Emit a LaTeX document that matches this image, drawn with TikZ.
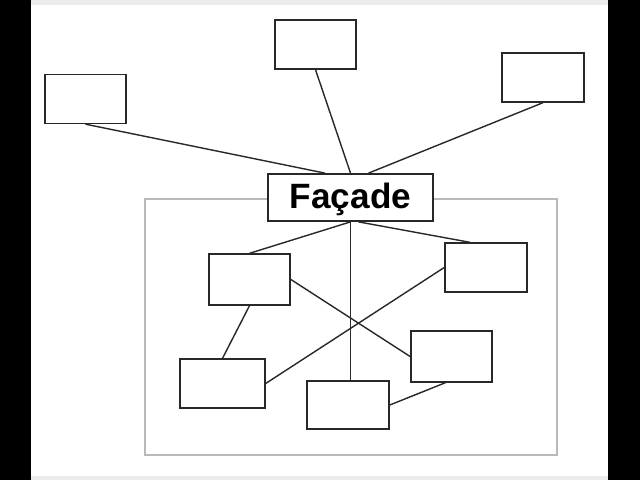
\documentclass[tikz,border=0pt]{standalone}
\usepackage{fontspec}
\setsansfont{Liberation Sans}
\usepackage{tikz}
\usetikzlibrary{positioning, calc}
\definecolor{boxline}{RGB}{40,40,40}
\definecolor{frameline}{RGB}{185,185,185}
\definecolor{stripgrey}{RGB}{236,236,236}
\tikzset{
  classbox/.style={draw=boxline, line width=1.1pt, fill=white, inner sep=0pt,
                   minimum width=2.03cm, minimum height=1.22cm},
  facadebox/.style={draw=boxline, line width=1.1pt, fill=white, inner sep=0pt,
                    minimum width=4.12cm, minimum height=1.18cm,
                    font=\sffamily\bfseries\fontsize{25}{29}\selectfont},
  link/.style={draw=boxline, line width=1pt},
  subsystem/.style={draw=frameline, line width=1.2pt},
}

\begin{document}
\begin{tikzpicture}[x=0.025cm, y=-0.025cm]
\useasboundingbox (0,0) rectangle (640,480);
% side bars and strips of the frame grab
\fill[black] (0,0) rectangle (31,480);
\fill[black] (608,0) rectangle (640,480);
\fill[stripgrey] (31,0) rectangle (608,5);
\fill[stripgrey] (31,476) rectangle (608,480);

% subsystem frame
\draw[subsystem] (145,199) rectangle (557,455);

% clients
\node[classbox] (client1) at (85.5,99) {};
\node[classbox] (client2) at (315.5,44.5) {};
\node[classbox, minimum width=2.05cm] (client3) at (543,77.5) {};

% facade
\node[facadebox] (facade) at (350.5,197.5) {};
\node (facadetext) at ([yshift=-0.06cm]facade.center)
  {\sffamily\bfseries\fontsize{25}{29}\selectfont Façade};

% subsystem classes
\node[classbox, minimum height=1.27cm] (subA) at (249.5,279.5) {};
\node[classbox, minimum width=2.05cm] (subB) at (486,267.5) {};
\node[classbox, minimum width=2.12cm] (subC) at (222.5,383.5) {};
\node[classbox, minimum width=2.05cm, minimum height=1.2cm] (subD) at (348,405) {};
\node[classbox, minimum height=1.27cm] (subE) at (451.5,356.5) {};

% client links
\draw[link] (client1.south) -- ([xshift=-0.64cm]facade.north);
\draw[link] (client2.south) -- (facade.north);
\draw[link] (client3.south) -- ([xshift=0.45cm]facade.north);

% facade into the subsystem
\draw[link] (facade.south) -- (subA.north);
\draw[link] ([xshift=0.2cm]facade.south) -- ([xshift=-0.4cm]subB.north);
\draw[link] (facade.south) -- (facade.south |- subD.north);

% links inside the subsystem
\draw[link] (subA.east) -- (subE.west);
\draw[link] (subB.west) -- (subC.east);
\draw[link] (subA.south) -- (subC.north);
\draw[link] ([xshift=-0.15cm]subE.south) -- (subD.east);
\end{tikzpicture}
\end{document}
